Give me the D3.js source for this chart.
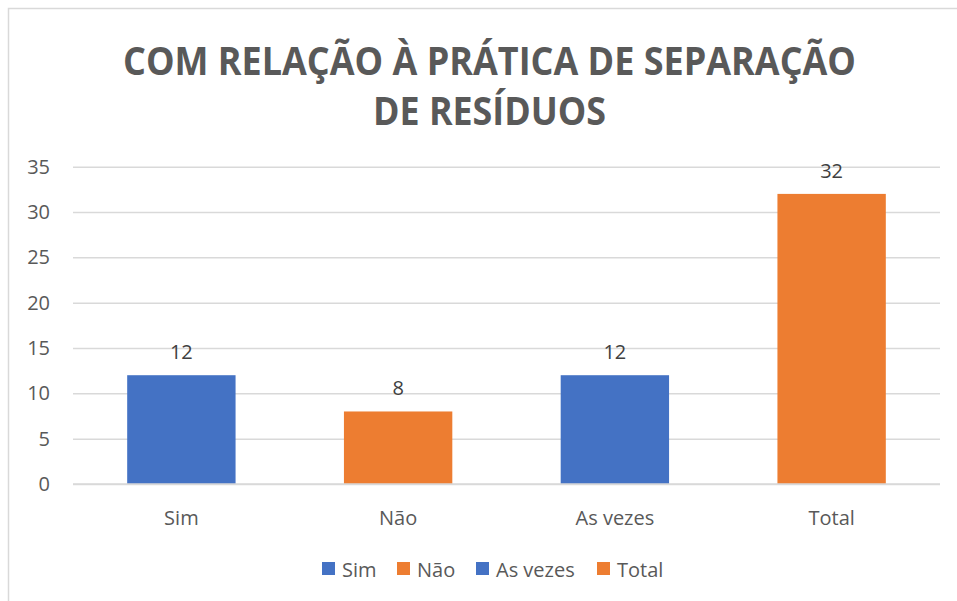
<!DOCTYPE html>
<html><head><meta charset="utf-8">
<script src="https://cdn.jsdelivr.net/npm/d3@7/dist/d3.min.js"></script>
<style>body{margin:0;background:#fff}svg{display:block}</style>
</head><body>
<svg id="c" width="957" height="601"></svg>
<script>
const categories = ["Sim", "Não", "As vezes", "Total"];
const values = [12, 8, 12, 32];
const colors = ["#4472C4", "#ED7D31", "#4472C4", "#ED7D31"];
const yTicks = [0, 5, 10, 15, 20, 25, 30, 35];
const titleLines = ["COM RELAÇÃO À PRÁTICA DE SEPARAÇÃO", "DE RESÍDUOS"];

const svg = d3.select("#c");
const font = "'Open Sans', sans-serif";
// chart border
svg.append("rect").attr("x", 8.5).attr("y", 8.5).attr("width", 1000).attr("height", 1000)
  .attr("fill", "#fff").attr("stroke", "#d9d9d9").attr("stroke-width", 1.5);

const x = d3.scaleBand().domain(categories).range([73, 940]).paddingInner(0.5).paddingOuter(0.25);
const y = d3.scaleLinear().domain([0, 35]).range([484, 166.7]);

// title
const tl = svg.append("g");
const widths = [733, 233];
titleLines.forEach((t, i) => {
  tl.append("text").attr("x", 489.5).attr("y", 75 + i * 50)
    .attr("text-anchor", "middle").attr("font-family", font).attr("font-weight", 700)
    .attr("font-size", 40).attr("fill", "#595959")
    .attr("textLength", widths[i]).attr("lengthAdjust", "spacingAndGlyphs")
    .text(t);
});

// gridlines
const yAxis = d3.axisLeft(y).tickValues(yTicks).tickSize(-(940 - 73)).tickPadding(23);
const ga = svg.append("g").attr("transform", "translate(73,0)").call(yAxis);
ga.select(".domain").remove();
ga.selectAll(".tick line").attr("stroke", "#d9d9d9").attr("stroke-width", 1.5);
ga.selectAll(".tick text").attr("font-family", font).attr("font-size", 20).attr("fill", "#595959");

// bars
svg.append("g").selectAll("rect").data(categories).join("rect")
  .attr("x", d => x(d)).attr("width", x.bandwidth())
  .attr("y", (d, i) => y(values[i])).attr("height", (d, i) => y(0) - y(values[i]))
  .attr("fill", (d, i) => colors[i]);

// value labels
svg.append("g").selectAll("text").data(categories).join("text")
  .attr("x", d => x(d) + x.bandwidth() / 2).attr("y", (d, i) => y(values[i]) - 16)
  .attr("text-anchor", "middle").attr("font-family", font).attr("font-size", 20).attr("fill", "#404040")
  .text((d, i) => values[i]);

// x axis labels
const xAxis = d3.axisBottom(x).tickSize(0).tickPadding(27);
const gx = svg.append("g").attr("transform", "translate(0,484)").call(xAxis);
gx.select(".domain").attr("stroke", "#d9d9d9").attr("stroke-width", 1.5).attr("d", "M73,0H940");
gx.selectAll(".tick text").attr("font-family", font).attr("font-size", 20).attr("fill", "#595959");

// legend
const legX = [322, 397, 476, 597];
const lg = svg.append("g").selectAll("g").data(categories).join("g")
  .attr("transform", (d, i) => `translate(${legX[i]},562)`);
lg.append("rect").attr("width", 13).attr("height", 13).attr("fill", (d, i) => colors[i]);
lg.append("text").attr("x", 20).attr("y", 14.5).attr("font-family", font).attr("font-size", 20)
  .attr("fill", "#595959").text(d => d);
</script>
</body></html>
